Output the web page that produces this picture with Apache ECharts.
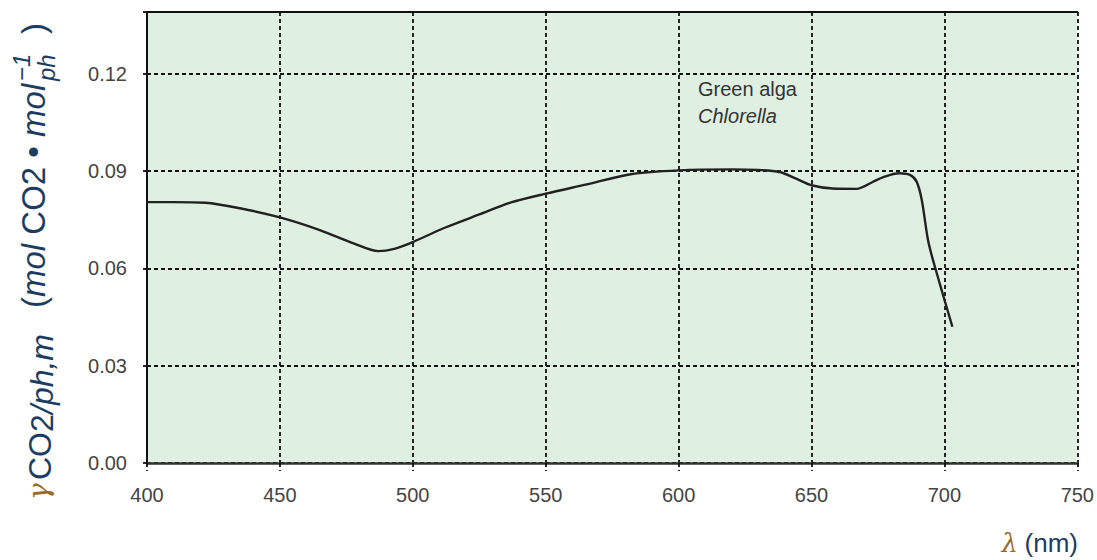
<!DOCTYPE html>
<html>
<head>
<meta charset="utf-8">
<script src="https://cdn.jsdelivr.net/npm/echarts@6/dist/echarts.min.js"></script>
<style>
html,body{margin:0;padding:0;background:#ffffff;}
#chart{width:1097px;height:560px;}
</style>
</head>
<body>
<div id="chart"></div>
<script>
// wavelength (nm)
const wavelengthNm = [400, 410, 422, 435, 450, 465, 478, 487, 493, 500, 512, 525, 537, 550, 565, 582, 600, 620, 630, 638, 644, 650, 658, 667, 673, 677, 683, 687, 689.5, 691.5, 694, 698, 703];
// quantum yield gamma CO2/ph,m (mol CO2 per mol photons)
const gammaCO2 = [0.0804, 0.0804, 0.0802, 0.0785, 0.0757, 0.0718, 0.0676, 0.0653, 0.0660, 0.0681, 0.0725, 0.0766, 0.0803, 0.0830, 0.0858, 0.0890, 0.0902, 0.0905, 0.0903, 0.0897, 0.0877, 0.0856, 0.0846, 0.0845, 0.0866, 0.0881, 0.0893, 0.0888, 0.0868, 0.0810, 0.0680, 0.0560, 0.0420];

const xMin = 400, xMax = 750, xStep = 50;
const yMin = 0, yMax = 0.139, yStep = 0.03;

const annotationLines = ['Green alga', 'Chlorella'];
const xAxisTitle = ['λ', '(nm)'];

const seriesData = wavelengthNm.map((w, i) => [w, gammaCO2[i]]);

const chart = echarts.init(document.getElementById('chart'), null, {renderer: 'svg'});

const labelColor = '#1c3d62';
const greekColor = '#9a6a2a';
const sans = '"Liberation Sans", Arial, sans-serif';

function yLabelFormatter(v) {
  const k = v / yStep;
  if (Math.abs(k - Math.round(k)) > 1e-6) return '';
  return v.toFixed(2);
}

function rotText(x, y, text, font, fill) {
  return {type: 'text', x: x, y: y, style: {text: text, font: font, fill: fill, align: 'left', verticalAlign: 'middle', textAlign: 'left', textVerticalAlign: 'middle'}};
}

const option = {
  backgroundColor: '#ffffff',
  animation: false,
  grid: {
    left: 147, right: 19, top: 12, bottom: 97,
    show: true, backgroundColor: '#dff0e3', borderWidth: 0
  },
  xAxis: [{
    type: 'value', position: 'bottom',
    min: xMin, max: xMax, interval: xStep,
    axisLine: {show: true, onZero: false, lineStyle: {color: '#333', width: 2.5}},
    axisTick: {show: true, length: 8, lineStyle: {color: '#111', type: [4, 3], width: 1.8}},
    splitLine: {show: true, lineStyle: {color: '#111', type: [4, 3], width: 1.8}},
    axisLabel: {color: '#444', fontSize: 20, fontFamily: sans, margin: 22}
  }, {
    type: 'value', position: 'top',
    min: xMin, max: xMax, interval: xStep,
    axisLine: {show: true, onZero: false, lineStyle: {color: '#111', width: 2}},
    axisTick: {show: false}, axisLabel: {show: false}, splitLine: {show: false}
  }],
  yAxis: {
    type: 'value', min: yMin, max: yMax, interval: yStep,
    axisLine: {show: true, onZero: false, lineStyle: {color: '#111', width: 2}},
    axisTick: {show: true, length: 6, lineStyle: {color: '#111', type: [4, 3], width: 1.8}},
    splitLine: {show: true, lineStyle: {color: '#111', type: [4, 3], width: 1.8}},
    axisLabel: {color: '#444', fontSize: 20, fontFamily: sans, margin: 20, formatter: yLabelFormatter}
  },
  series: [{
    type: 'line',
    xAxisIndex: 0,
    data: seriesData,
    showSymbol: false,
    smooth: 0.3,
    lineStyle: {color: '#222', width: 2.4},
    z: 5
  }],
  graphic: [
    {
      type: 'text', left: 698, top: 79,
      style: {text: annotationLines[0], font: '20px ' + sans, fill: '#333'}
    },
    {
      type: 'text', left: 698, top: 106,
      style: {text: annotationLines[1], font: 'italic 20px ' + sans, fill: '#333'}
    },
    {
      type: 'text', right: 19, top: 530,
      style: {
        text: '{l|' + xAxisTitle[0] + '}  {n|' + xAxisTitle[1] + '}',
        rich: {
          l: {font: 'italic 26px "DejaVu Serif", serif', fill: greekColor},
          n: {font: '26px ' + sans, fill: labelColor}
        }
      }
    },
    {
      type: 'group', x: 36, y: 500, rotation: Math.PI / 2,
      children: [
        rotText(0, 2, 'γ', 'italic 28px "DejaVu Serif", serif', greekColor),
        rotText(20, 4, 'CO', '32px ' + sans, labelColor),
        rotText(68, 6, '2', '32px ' + sans, labelColor),
        rotText(86, 6, '/ph,m', 'italic 32px ' + sans, labelColor),
        {type: 'text', x: 192, y: -3, style: {
          text: '{n|(}{i|mol}{n| CO2 • }{i|mol}',
          rich: {
            n: {font: '33px ' + sans, fill: labelColor},
            i: {font: 'italic 33px ' + sans, fill: labelColor}
          },
          align: 'left', verticalAlign: 'middle', textAlign: 'left', textVerticalAlign: 'middle'}},
        rotText(419, -15, '−1', 'italic 24px ' + sans, labelColor),
        rotText(419, 10, 'ph', 'italic 24px ' + sans, labelColor),
        rotText(466, -3, ')', '33px ' + sans, labelColor)
      ]
    }
  ]
};

chart.setOption(option);
</script>
</body>
</html>
